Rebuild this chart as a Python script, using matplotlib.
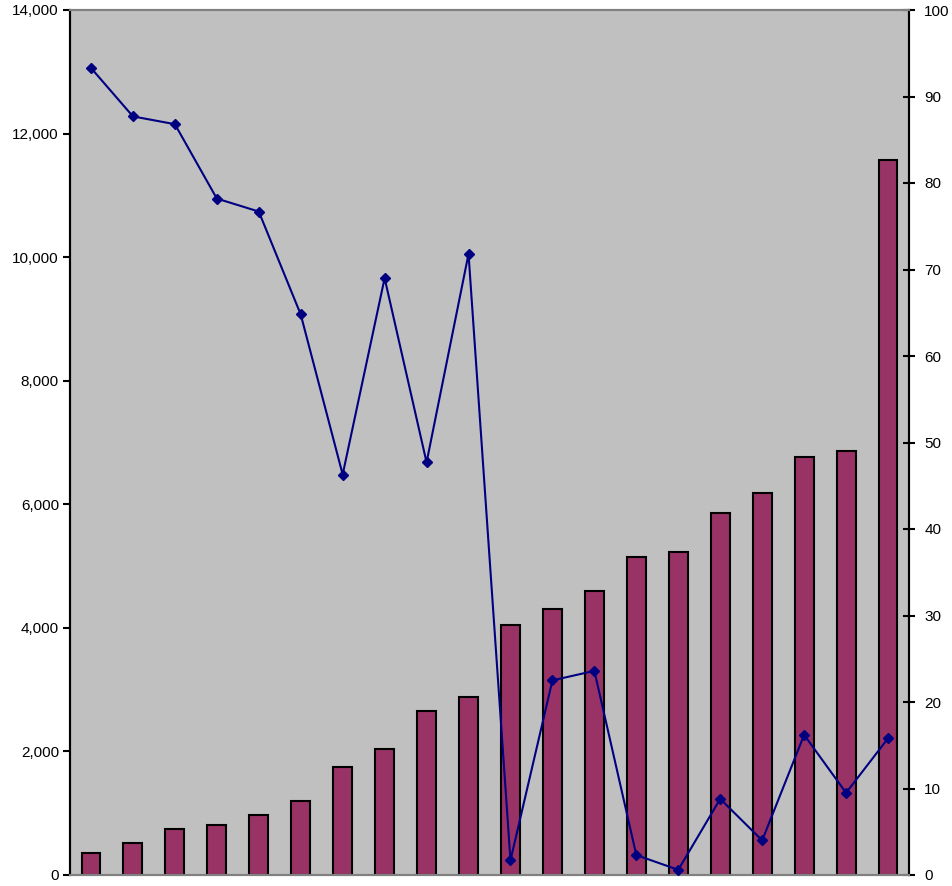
import matplotlib
matplotlib.use("Agg")
import matplotlib.pyplot as plt
import numpy as np

# bar series (left axis) and line series (right axis), 20 categories
bar_values = [361, 523, 749, 814, 976, 1202, 1748, 2039, 2654, 2881,
              4046, 4305, 4596, 5146, 5227, 5858, 6182, 6765, 6862, 11571]
line_values = [93.3, 87.7, 86.8, 78.2, 76.7, 64.8, 46.3, 69.0, 47.7, 71.8,
               1.7, 22.5, 23.6, 2.3, 0.6, 8.8, 4.0, 16.2, 9.5, 15.8]
left_ticks = [0, 2000, 4000, 6000, 8000, 10000, 12000, 14000]
right_ticks = [0, 10, 20, 30, 40, 50, 60, 70, 80, 90, 100]

plt.rcParams['font.family'] = ['Liberation Sans', 'DejaVu Sans']

fig = plt.figure(figsize=(9.53, 8.86), dpi=100)
ax = fig.add_axes([70/953, 1 - 875/886, 839/953, 865/886])
ax.set_facecolor('#c0c0c0')

x = np.arange(len(bar_values))
ax.bar(x, bar_values, width=0.45, color='#993366', edgecolor='black', linewidth=1.5, zorder=2)
ax.set_xlim(-0.5, len(bar_values) - 0.5)
ax.set_ylim(0, 14000)
ax.set_yticks(left_ticks)
ax.set_yticklabels(['{:,}'.format(t) for t in left_ticks], fontsize=11)
ax.set_xticks([])
ax.tick_params(axis='y', direction='out', length=5, width=1.5, pad=3)

ax2 = ax.twinx()
ax2.plot(x, line_values, color='#000080', linewidth=1.5, marker='D', markersize=5.5, zorder=3)
ax2.set_ylim(0, 100)
ax2.set_yticks(right_ticks)
ax2.set_yticklabels([str(t) for t in right_ticks], fontsize=11)
ax2.tick_params(axis='y', direction='inout', length=8, width=1.5, pad=7)

for a in (ax, ax2):
    a.spines['top'].set_color('#808080')
    a.spines['bottom'].set_color('#808080')
    a.spines['top'].set_linewidth(1.5)
    a.spines['bottom'].set_linewidth(1.5)
    a.spines['left'].set_linewidth(1.5)
    a.spines['right'].set_linewidth(1.5)

fig.savefig('out.png', dpi=100)
